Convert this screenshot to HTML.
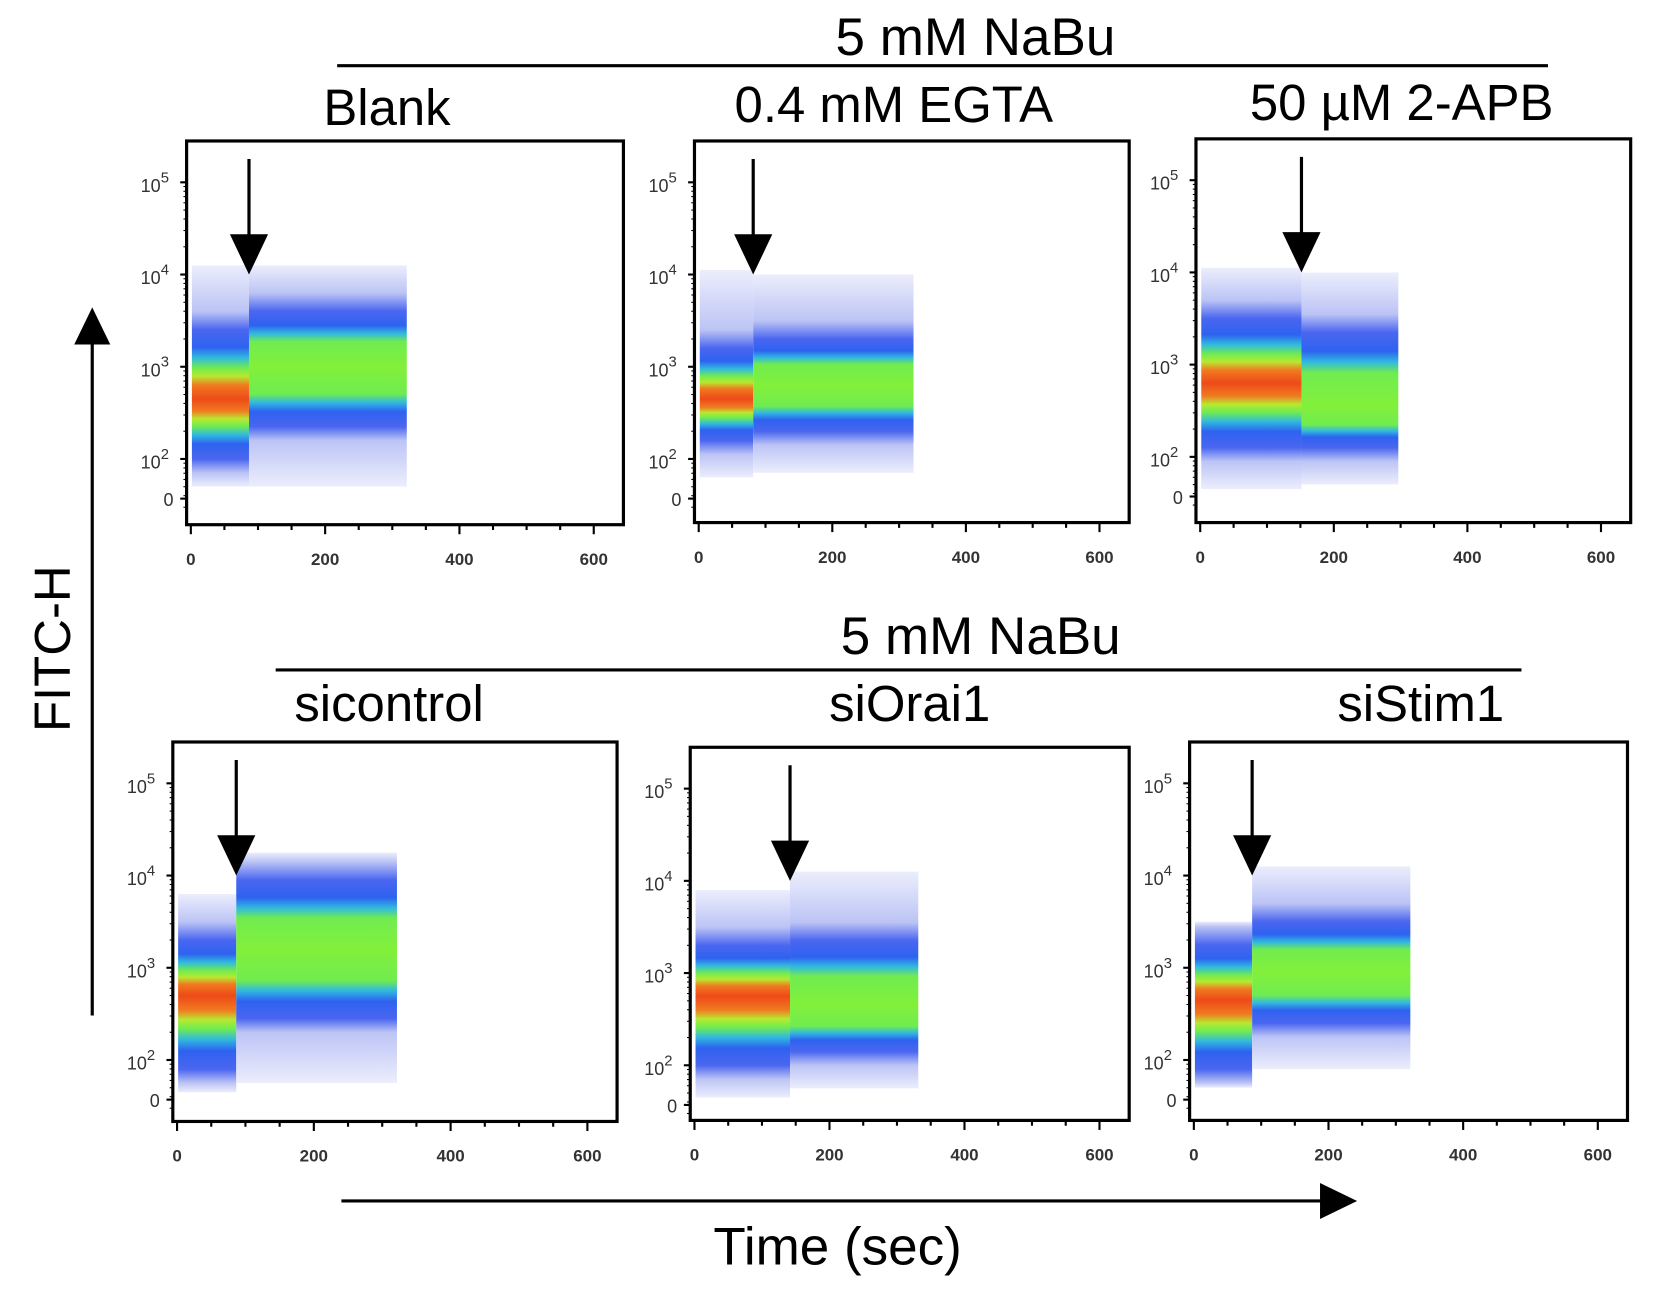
<!DOCTYPE html>
<html><head><meta charset="utf-8"><style>
html,body{margin:0;padding:0;background:#fff;}
svg{display:block;font-family:"Liberation Sans",Arial,sans-serif;}
</style></head><body>
<svg id="fig" width="1654" height="1290" viewBox="0 0 1560 1217" preserveAspectRatio="none" xmlns="http://www.w3.org/2000/svg">
<defs id="defs"></defs>
<g>
<text x="920" y="52" font-size="50" text-anchor="middle">5 mM NaBu</text>
<line x1="318" y1="62" x2="1460" y2="62" stroke="#000" stroke-width="3"/>
</g>
<g>
<text x="925" y="617" font-size="50" text-anchor="middle">5 mM NaBu</text>
<line x1="260" y1="632" x2="1435" y2="632" stroke="#000" stroke-width="3"/>
</g>
<g>
<line x1="87" y1="958" x2="87" y2="320" stroke="#000" stroke-width="3"/>
<polygon points="70,325 104,325 87,290" fill="#000"/>
</g>
<text transform="translate(66,612) rotate(-90)" font-size="48" text-anchor="middle">FITC-H</text>
<g>
<line x1="322" y1="1133" x2="1250" y2="1133" stroke="#000" stroke-width="3"/>
<polygon points="1245,1116 1245,1150 1280,1133" fill="#000"/>
</g>
<text x="790" y="1193" font-size="50" text-anchor="middle">Time (sec)</text>
<g id="panels"></g>
</svg>
<script>
// Panel data (times in sec, intensities in log10 units)
const panelTitles = ["Blank", "0.4 mM EGTA", "50 µM 2-APB", "sicontrol", "siOrai1", "siStim1"];
const arrowTimes = [85, 80, 150, 85, 140, 85];
const endTimes = [320, 320, 295, 320, 330, 320];
const preCenter = [2.65, 2.65, 2.8, 2.7, 2.75, 2.65];
const preDenseLo = [2.0, 2.2, 2.1, 1.9, 2.0, 1.9];
const preDenseHi = [3.4, 3.2, 3.5, 3.3, 3.3, 3.25];
const preSparseLo = [1.7, 1.8, 1.65, 1.65, 1.65, 1.7];
const preSparseHi = [4.1, 4.05, 4.05, 3.8, 3.9, 3.5];
const postCenter = [3.0, 2.8, 2.55, 3.2, 2.65, 2.95];
const postDenseLo = [2.35, 2.3, 2.1, 2.45, 2.15, 2.4];
const postDenseHi = [3.6, 3.3, 3.35, 3.95, 3.35, 3.5];
const postSparseLo = [1.7, 1.85, 1.7, 1.75, 1.75, 1.9];
const postSparseHi = [4.1, 4.0, 4.0, 4.25, 4.1, 4.1];
const xTicks = [0, 200, 400, 600];
const yTickExps = [5, 4, 3, 2];

const boxes = [[176,133,588,495],[655,133,1065,493],[1128,131,1538,493],[163,700,582,1058],[651,705,1065,1057],[1122,700,1535,1057]];
const titlePos = [[365,118],[843,115],[1322,113],[367,680],[858,680],[1340,680]];
const NS = "http://www.w3.org/2000/svg";
const root = document.getElementById("panels");
const defs = document.getElementById("defs");
function mk(tag, attrs, parent){const e=document.createElementNS(NS,tag);for(const k in attrs)e.setAttribute(k,attrs[k]);parent.appendChild(e);return e;}
let gid=0;

boxes.forEach((b,i)=>{
  const [L,T,R,B]=b;
  const g=mk("g",{},root);
  
  
  const x0=L+4, x600=R-28;
  const xs=t=>x0+(x600-x0)*t/600;
  const ys=v=>T+39+(5-v)*87;
  const ty=mk("text",{x:titlePos[i][0],y:titlePos[i][1],"font-size":48,"text-anchor":"middle"},g);
  ty.textContent=panelTitles[i];
  
  
  const cg=mk("g",{},g);
  
  
  function seg(t0,t1,sLo,sHi,dLo,dHi,c,core){
    const xa=xs(t0)+1,w=xs(t1)-xs(t0);
    const top=ys(sHi),h=ys(sLo)-top;
    const f=v=>((ys(v)-top)/h*100).toFixed(1)+"%";
    const id="gr"+(gid++);
    const lg=mk("linearGradient",{id:id,x1:0,y1:0,x2:0,y2:1},defs);
    const up=dHi-c, dn=c-dLo;
    const stops=[[sHi,"#eceefc"],[dHi+0.2,"#bcc4f5"],[dHi,"#4a66f0"],[c+up*0.75,"#2e62f0"],[c+up*0.6,"#30b8e0"],[c+up*0.45,"#70ec50"]];
    if(core){stops.push([c+up*0.33,"#b8e830"],[c+up*0.2,"#f07a20"],[c,"#ee4a18"],[c-dn*0.2,"#f07a20"],[c-dn*0.33,"#b8e830"]);} else stops.push([c,"#82f03a"]);
    stops.push([c-dn*0.45,"#70ec50"],[c-dn*0.6,"#30b8e0"],[c-dn*0.75,"#2e62f0"],[dLo,"#4a66f0"],[dLo-0.15,"#bcc4f5"],[sLo,"#eceefc"]);
    stops.forEach(s=>mk("stop",{offset:f(Math.max(sLo,Math.min(sHi,s[0]))),"stop-color":s[1]},lg));
    mk("rect",{x:xa,y:top,width:w,height:h,fill:`url(#${id})`},cg);
  }
  seg(0,arrowTimes[i],preSparseLo[i],preSparseHi[i],preDenseLo[i],preDenseHi[i],preCenter[i],true);
  seg(arrowTimes[i],endTimes[i],postSparseLo[i],postSparseHi[i],postDenseLo[i],postDenseHi[i],postCenter[i],false);
  const fr=mk("rect",{x:L,y:T,width:R-L,height:B-T,fill:"none",stroke:"#000","stroke-width":3},g);
  
  
  for(let t=0;t<=600;t+=50){mk("line",{x1:xs(t),x2:xs(t),y1:B,y2:B+(t%200===0?9:5),stroke:"#000","stroke-width":2},g);}
  xTicks.forEach(t=>{const tx=mk("text",{x:xs(t),y:B+38,"font-size":16,"text-anchor":"middle",fill:"#333","font-weight":"bold"},g);tx.textContent=t;
    
    });
  for(let k=2;k<=5;k++){mk("line",{x1:L-6,x2:L,y1:ys(k),y2:ys(k),stroke:"#000","stroke-width":2},g);
    for(let m=2;m<10;m++){const y=ys(k-1+Math.log10(m));if(y<B-2)mk("line",{x1:L-3,x2:L,y1:y,y2:y,stroke:"#000","stroke-width":1},g);}}
  mk("line",{x1:L-6,x2:L,y1:ys(1.57),y2:ys(1.57),stroke:"#000","stroke-width":2},g);
  yTickExps.forEach(e=>{const tx=mk("text",{x:L-30,y:ys(e)+9,"font-size":17,"text-anchor":"middle",fill:"#333"},g);
    tx.textContent="10";const sp=mk("tspan",{dy:-9,"font-size":14},tx);sp.textContent=e;
    
    });
  const z=mk("text",{x:L-17,y:ys(1.57)+7,"font-size":17,"text-anchor":"middle",fill:"#333"},g);z.textContent="0";
  
  
  const ag=mk("g",{},g);
  
  
  const ax=xs(arrowTimes[i])+1;
  mk("line",{x1:ax,x2:ax,y1:T+17,y2:T+95,stroke:"#000","stroke-width":3},ag);
  mk("polygon",{points:`${ax-18},${T+88} ${ax+18},${T+88} ${ax},${T+126}`,fill:"#000"},ag);
});
</script>
</body></html>
